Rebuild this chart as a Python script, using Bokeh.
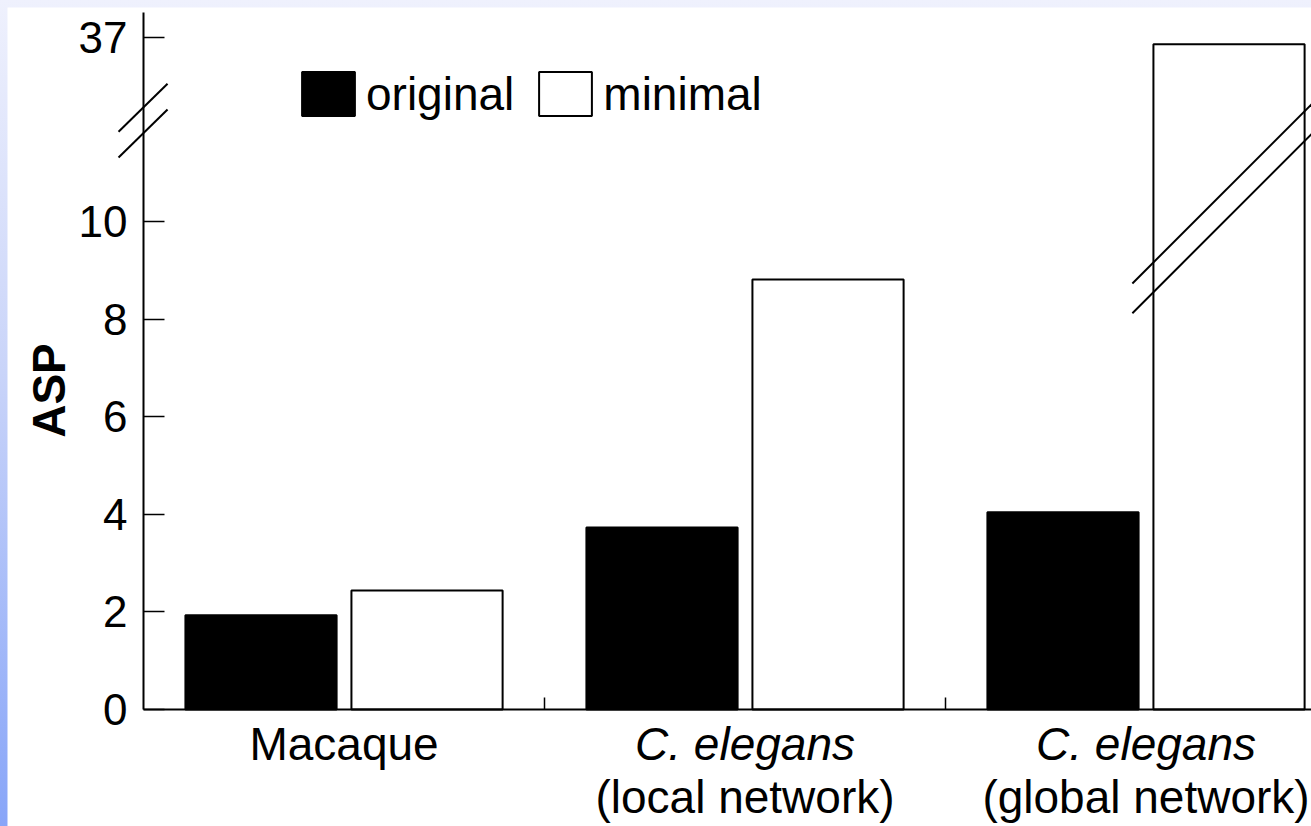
import math

from bokeh.core.properties import value
from bokeh.embed import file_html
from bokeh.layouts import column
from bokeh.models import (ColumnDataSource, FixedTicker, Label, LabelSet,
                          Legend, LegendItem, Range1d)
from bokeh.plotting import figure
from bokeh.resources import INLINE

# --- data -------------------------------------------------------------------
categories = ["Macaque", "C. elegans (local network)", "C. elegans (global network)"]
label_line1 = ["Macaque", "C. elegans", "C. elegans"]
label_style1 = ["normal", "italic", "italic"]
label_line2 = ["", "(local network)", "(global network)"]
original = [1.93, 3.73, 4.04]
minimal = [2.44, 8.81, 36.5]
y_ticks = [0, 2, 4, 6, 8, 10, 37]

# --- broken y axis: values above the break are drawn on a compressed scale ---
BREAK = 12.0
TOP_VALUE = 37.0
TOP_POS = 13.77
UPPER_SLOPE = 0.28
AXIS_TOP = 14.283


def to_axis(v):
    if v <= BREAK:
        return v
    return TOP_POS + (v - TOP_VALUE) * UPPER_SLOPE


FONT = "Liberation Sans"
x_pos = list(range(len(categories)))
dodge = 0.207
bar_w = 0.377
X_LEFT = -0.5          # where the y axis sits

src = ColumnDataSource(dict(
    x_orig=[x - dodge for x in x_pos],
    x_min=[x + dodge for x in x_pos],
    top_orig=[to_axis(v) for v in original],
    top_min=[to_axis(v) for v in minimal],
))

# the plot area spans the whole white panel; axes are pinned inside it
p = figure(width=1304, height=819, output_backend="svg", toolbar_location=None,
           x_range=Range1d(-0.8392, 2.4127), y_range=Range1d(-2.3975, 14.385),
           min_border=0)
p.margin = (7, 0, 0, 7)
p.background_fill_color = "white"
p.border_fill_color = "white"
p.outline_line_color = None
p.xgrid.visible = False
p.ygrid.visible = False

r_orig = p.vbar(x="x_orig", top="top_orig", bottom=0, width=bar_w, source=src,
                fill_color="black", line_color="black", line_width=2)
r_min = p.vbar(x="x_min", top="top_min", bottom=0, width=bar_w, source=src,
               fill_color="white", line_color="black", line_width=2)

# y axis
yax = p.yaxis[0]
yax.fixed_location = X_LEFT
yax.bounds = (0, AXIS_TOP)
yax.ticker = FixedTicker(ticks=[to_axis(t) for t in y_ticks])
yax.major_label_overrides = {to_axis(t): str(t) for t in y_ticks}
yax.axis_line_width = 2
yax.axis_line_color = "black"
yax.major_tick_in = 21
yax.major_tick_out = 0
yax.major_tick_line_width = 1.5
yax.minor_tick_line_color = None
yax.major_label_standoff = 16
yax.major_label_text_font = FONT
yax.major_label_text_font_size = "44px"
yax.major_label_text_color = "black"

# x axis: baseline with the category separators as ticks
xax = p.xaxis[0]
xax.fixed_location = 0
xax.bounds = (X_LEFT, 2.5)
xax.ticker = FixedTicker(ticks=[0.5, 1.5])
xax.major_label_overrides = {0.5: "", 1.5: ""}
xax.axis_line_width = 2
xax.axis_line_color = "black"
xax.major_tick_in = 12
xax.major_tick_out = 0
xax.major_tick_line_width = 1.5
xax.minor_tick_line_color = None

# category labels (species name in italics, network type below)
lab_src = ColumnDataSource(dict(x=x_pos, l1=label_line1, l2=label_line2,
                                style1=label_style1))
p.add_layout(LabelSet(x="x", y=-1.025, text="l1", source=lab_src,
                      text_align="center", text_baseline="alphabetic",
                      text_font=value(FONT), text_font_size=value("46px"),
                      text_font_style="style1", text_color="black"))
p.add_layout(LabelSet(x="x", y=-2.131, text="l2", source=lab_src,
                      text_align="center", text_baseline="alphabetic",
                      text_font=value(FONT), text_font_size=value("46px"),
                      text_color="black"))

# y axis title
p.add_layout(Label(x=-0.7355, y=6.537, text="ASP", angle=math.pi / 2,
                   text_align="center", text_baseline="middle",
                   text_font=FONT, text_font_size="46px",
                   text_font_style="bold", text_color="black"))

# break marks on the y axis
for y0 in (11.84, 11.31):
    p.segment(x0=-0.5623, y0=y0, x1=-0.4401, y1=y0 + 0.984,
              line_color="black", line_width=2)

# break marks across the tall bar
for y0 in (8.73, 8.12):
    x0, x1 = 1.966, 2.45
    p.segment(x0=x0, y0=y0, x1=x1, y1=y0 + (x1 - x0) * 8.217,
              line_color="black", line_width=2)

legend = Legend(items=[LegendItem(label="original", renderers=[r_orig]),
                       LegendItem(label="minimal", renderers=[r_min])],
                orientation="horizontal", location=(288, 705),
                glyph_width=66, glyph_height=55, label_standoff=5,
                spacing=18, padding=0, margin=0,
                label_text_font=FONT, label_text_font_size="46px",
                label_text_color="black",
                border_line_alpha=0, background_fill_alpha=0)
p.add_layout(legend)

root = column(p, width=1311, height=826,
              styles={"background": "linear-gradient(to bottom, #eff1fd 0%, #c9d4f9 45%, #88a5f8 100%)"})

open("out.html", "w").write(file_html(root, INLINE))
